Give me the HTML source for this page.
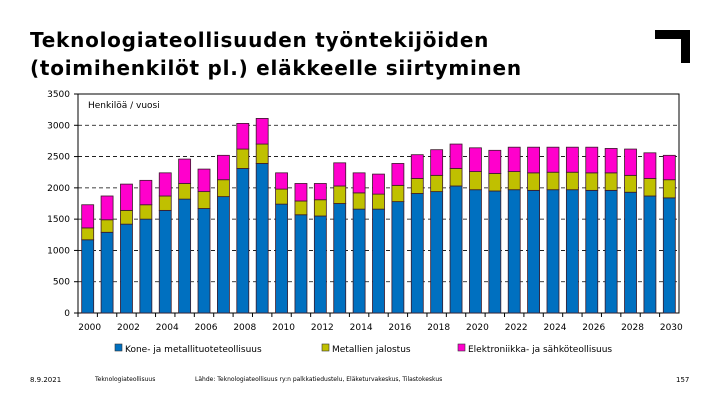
<!DOCTYPE html>
<html><head><meta charset="utf-8"><style>
body{margin:0;background:#fff;font-family:"DejaVu Sans","Liberation Sans",sans-serif}
#wrap{position:relative;width:720px;height:405px;overflow:hidden}
.t{position:absolute}
</style></head><body>
<div id="wrap">
<div class="t" style="left:30px;top:26px;font-size:20px;font-weight:bold;line-height:28px;color:#000;letter-spacing:0.75px">Teknologiateollisuuden työntekijöiden<br>(toimihenkilöt pl.) eläkkeelle siirtyminen</div>
<svg class="t" style="left:655px;top:30px" width="36" height="34"><path d="M0 0H35V33H26V9H0Z" fill="#000"/></svg>
<svg id="c" class="t" style="left:0;top:0" width="720" height="405"></svg>
<div class="t" style="left:30px;top:376px;font-size:7px">8.9.2021</div>
<div class="t" style="left:95px;top:376px;font-size:6px">Teknologiateollisuus</div>
<div class="t" style="left:195px;top:376px;font-size:6px">Lähde: Teknologiateollisuus ry:n palkkatiedustelu, Eläketurvakeskus, Tilastokeskus</div>
<div class="t" style="left:676px;top:376px;font-size:7px">157</div>
</div>
<script>
const years=[2000,2001,2002,2003,2004,2005,2006,2007,2008,2009,2010,2011,2012,2013,2014,2015,2016,2017,2018,2019,2020,2021,2022,2023,2024,2025,2026,2027,2028,2029,2030];
const blueTop=[1170,1290,1420,1500,1640,1820,1670,1860,2310,2390,1740,1570,1550,1750,1660,1660,1780,1910,1940,2030,1970,1950,1970,1960,1970,1970,1960,1960,1930,1870,1840];
const yellowTop=[1360,1490,1640,1730,1870,2070,1940,2130,2620,2700,1980,1790,1810,2030,1920,1900,2040,2150,2200,2310,2260,2230,2260,2240,2250,2250,2240,2240,2200,2150,2130];
const totals=[1730,1870,2060,2120,2240,2460,2300,2520,3030,3110,2240,2070,2070,2400,2240,2220,2390,2530,2610,2700,2640,2600,2650,2650,2650,2650,2650,2630,2620,2560,2520];
const yTicks=[0,500,1000,1500,2000,2500,3000,3500];
const xLabels=[2000,2002,2004,2006,2008,2010,2012,2014,2016,2018,2020,2022,2024,2026,2028,2030];
const L=78,R=679,T=94,B=313,YMAX=3500;
const svg=document.getElementById('c');const NS='http://www.w3.org/2000/svg';
const step=(R-L)/years.length;
const y=v=>B-v/YMAX*(B-T);
const x=i=>L+step*(i+0.5);
function mk(t,a){const e=document.createElementNS(NS,t);for(const k in a)e.setAttribute(k,a[k]);svg.appendChild(e);return e;}
yTicks.forEach(v=>{
 if(v>0&&v<YMAX){const g=mk('line',{x1:L,x2:R,y1:y(v),y2:y(v),stroke:'#000','stroke-dasharray':'4,3','stroke-width':0.8});
 
 }
 const t=mk('text',{x:L-8,y:y(v)+3,'font-size':9,'text-anchor':'end','font-family':'DejaVu Sans, sans-serif'});t.textContent=v;
 
 
 mk('line',{x1:L-4,x2:L,y1:y(v),y2:y(v),stroke:'#000'});
});
const fr=mk('rect',{x:L,y:T,width:R-L,height:B-T,fill:'none',stroke:'#000','stroke-width':1});


const ht=mk('text',{x:L+10,y:T+14,'font-size':9,'font-family':'DejaVu Sans, sans-serif'});ht.textContent='Henkilöä / vuosi';


const bw=12;
years.forEach((yr,i)=>{
 mk('line',{x1:L+step*i,x2:L+step*i,y1:B,y2:B+4,stroke:'#000'});
 const segs=[[0,blueTop[i],'#0070C0','bar-kone'],[blueTop[i],yellowTop[i],'#C0C000','bar-metallien'],[yellowTop[i],totals[i],'#FF00CC','bar-elektroniikka']];
 segs.forEach(s=>{const r=mk('rect',{x:x(i)-bw/2,y:y(s[1]),width:bw,height:y(s[0])-y(s[1]),fill:s[2],stroke:'#3a1a2a','stroke-width':0.8});
 
 });
});
xLabels.forEach(yr=>{const i=years.indexOf(yr);const t=mk('text',{x:x(i)+2,y:B+17,'font-size':9,'text-anchor':'middle','font-family':'DejaVu Sans, sans-serif'});t.textContent=yr;
 
 });
const leg=[[115,'#0070C0','Kone- ja metallituoteteollisuus'],[322,'#C0C000','Metallien jalostus'],[458,'#FF00CC','Elektroniikka- ja sähköteollisuus']];
leg.forEach(l=>{mk('rect',{x:l[0],y:344,width:7,height:7,fill:l[1],stroke:'#333','stroke-width':0.6});
 const t=mk('text',{x:l[0]+10,y:352,'font-size':9,'font-family':'DejaVu Sans, sans-serif'});t.textContent=l[2];
 
 });
</script>
</body></html>
